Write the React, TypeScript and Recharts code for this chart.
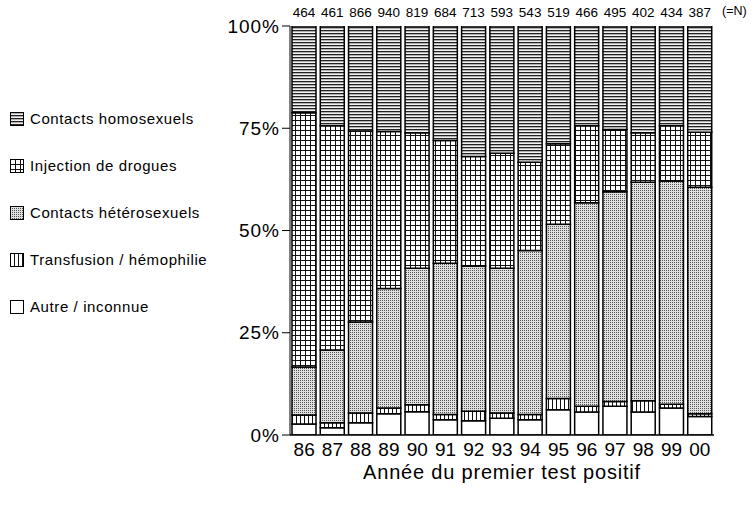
import React from 'react'
import { BarChart, Bar, XAxis, YAxis, LabelList, Label } from 'recharts'

const years = ['86', '87', '88', '89', '90', '91', '92', '93', '94', '95', '96', '97', '98', '99', '00']
const nTotals = [464, 461, 866, 940, 819, 684, 713, 593, 543, 519, 466, 495, 402, 434, 387]

// shares in % of each year's total, bottom to top
const autre = [2.7, 1.8, 3.0, 5.2, 5.7, 3.7, 3.5, 4.1, 3.7, 6.2, 5.6, 7.0, 5.6, 6.6, 4.5]
const transfusion = [2.2, 1.2, 2.4, 1.4, 1.7, 1.3, 2.3, 1.3, 1.3, 2.7, 1.4, 1.2, 2.8, 0.9, 0.7]
const hetero = [11.7, 17.8, 22.2, 29.2, 33.4, 37.0, 35.5, 35.4, 40.1, 42.6, 49.8, 51.3, 53.4, 54.6, 55.4]
const drogues = [62.2, 54.8, 46.7, 38.4, 33.1, 30.0, 26.8, 28.1, 21.6, 19.7, 18.8, 15.2, 12.1, 13.5, 13.4]
const homo = [21.2, 24.4, 25.7, 25.8, 26.1, 28.0, 31.9, 31.1, 33.3, 28.8, 24.4, 25.3, 26.1, 24.4, 26.0]

const yTicks = [0, 25, 50, 75, 100]

const data = years.map((year, i) => ({
  year,
  n: nTotals[i],
  autre: autre[i],
  transfusion: transfusion[i],
  hetero: hetero[i],
  drogues: drogues[i],
  homo: homo[i]
}))

const legendItems = [
  { key: 'homo', label: 'Contacts homosexuels', fill: 'url(#patHomo)' },
  { key: 'drogues', label: 'Injection de drogues', fill: 'url(#patDrogues)' },
  { key: 'hetero', label: 'Contacts hétérosexuels', fill: 'url(#patHetero)' },
  { key: 'transfusion', label: 'Transfusion / hémophilie', fill: 'url(#patTransf)' },
  { key: 'autre', label: 'Autre / inconnue', fill: '#fff' }
]

const FONT = '"Liberation Sans", Arial, sans-serif'

export default function App() {
  return (
    <div style={{ position: 'absolute', left: 0, top: 0, width: 755, height: 510, background: '#fff', fontFamily: FONT }}>
      <BarChart
        width={755}
        height={510}
        data={data}
        margin={{ top: 26, right: 41, left: 220, bottom: 0 }}
      >
        <defs>
          <pattern id="patHomo" width="4" height="3" patternUnits="userSpaceOnUse">
            <rect width="4" height="3" fill="#b0b0b0" />
            <rect y="0" width="4" height="1" fill="#222" />
            <rect y="2" width="4" height="1" fill="#f2f2f2" />
          </pattern>
          <pattern id="patDrogues" width="5" height="5" patternUnits="userSpaceOnUse">
            <rect width="5" height="5" fill="#fff" />
            <rect x="0" width="1" height="5" fill="#111" />
            <rect y="0" width="5" height="1" fill="#111" />
          </pattern>
          <pattern id="patHetero" width="2" height="2" patternUnits="userSpaceOnUse">
            <rect width="2" height="2" fill="#e0e0e0" />
            <rect x="0" y="0" width="1" height="1" fill="#555" />
          </pattern>
          <pattern id="patTransf" width="4" height="4" patternUnits="userSpaceOnUse">
            <rect width="4" height="4" fill="#fff" />
            <rect x="0" width="1" height="4" fill="#111" />
          </pattern>
        </defs>
        <XAxis
          dataKey="year"
          height={75}
          tickLine={false}
          axisLine={{ stroke: '#000', strokeWidth: 1.5 }}
          tick={{ fontSize: 19, fill: '#000', fontFamily: FONT }}
          interval={0}
        >
          <Label
            value="Année du premier test positif"
            position="insideBottom"
            offset={31}
            style={{ fontSize: 20, fill: '#000', fontFamily: FONT, letterSpacing: 0.8 }}
          />
        </XAxis>
        <YAxis
          width={70}
          domain={[0, 100]}
          ticks={yTicks}
          tickFormatter={(v: number) => `${v}%`}
          tickSize={8}
          tickLine={{ stroke: '#000' }}
          axisLine={{ stroke: '#000' }}
          tick={{ fontSize: 19, fill: '#000', fontFamily: FONT, letterSpacing: 1 }}
          allowDataOverflow
        />
        <Bar dataKey="autre" stackId="s" fill="#fff" stroke="#000" strokeWidth={1.5} barSize={24} isAnimationActive={false} />
        <Bar dataKey="transfusion" stackId="s" fill="url(#patTransf)" stroke="#000" strokeWidth={1.5} barSize={24} isAnimationActive={false} />
        <Bar dataKey="hetero" stackId="s" fill="url(#patHetero)" stroke="#000" strokeWidth={1.5} barSize={24} isAnimationActive={false} />
        <Bar dataKey="drogues" stackId="s" fill="url(#patDrogues)" stroke="#000" strokeWidth={1.5} barSize={24} isAnimationActive={false} />
        <Bar dataKey="homo" stackId="s" fill="url(#patHomo)" stroke="#000" strokeWidth={1.5} barSize={24} isAnimationActive={false}>
          <LabelList dataKey="n" position="top" offset={9} style={{ fontSize: 13.5, fill: '#000', fontFamily: FONT }} />
        </Bar>
      </BarChart>
      <span style={{ position: 'absolute', left: 722, top: 4, fontSize: 12.5, color: '#000' }}>(=N)</span>
      <div style={{ position: 'absolute', left: 10, top: 103 }}>
        {legendItems.map((item) => (
          <div key={item.key} style={{ display: 'flex', alignItems: 'center', height: 47, marginTop: 0 }}>
            <svg width={14} height={14} style={{ marginRight: 6, transform: 'translateY(-8px)' }}>
              <rect x={0.5} y={0.5} width={13} height={13} fill={item.fill} stroke="#000" strokeWidth={1} />
            </svg>
            <span style={{ fontSize: 15, letterSpacing: 0.6, transform: 'translateY(-8px)' }}>{item.label}</span>
          </div>
        ))}
      </div>
    </div>
  )
}
